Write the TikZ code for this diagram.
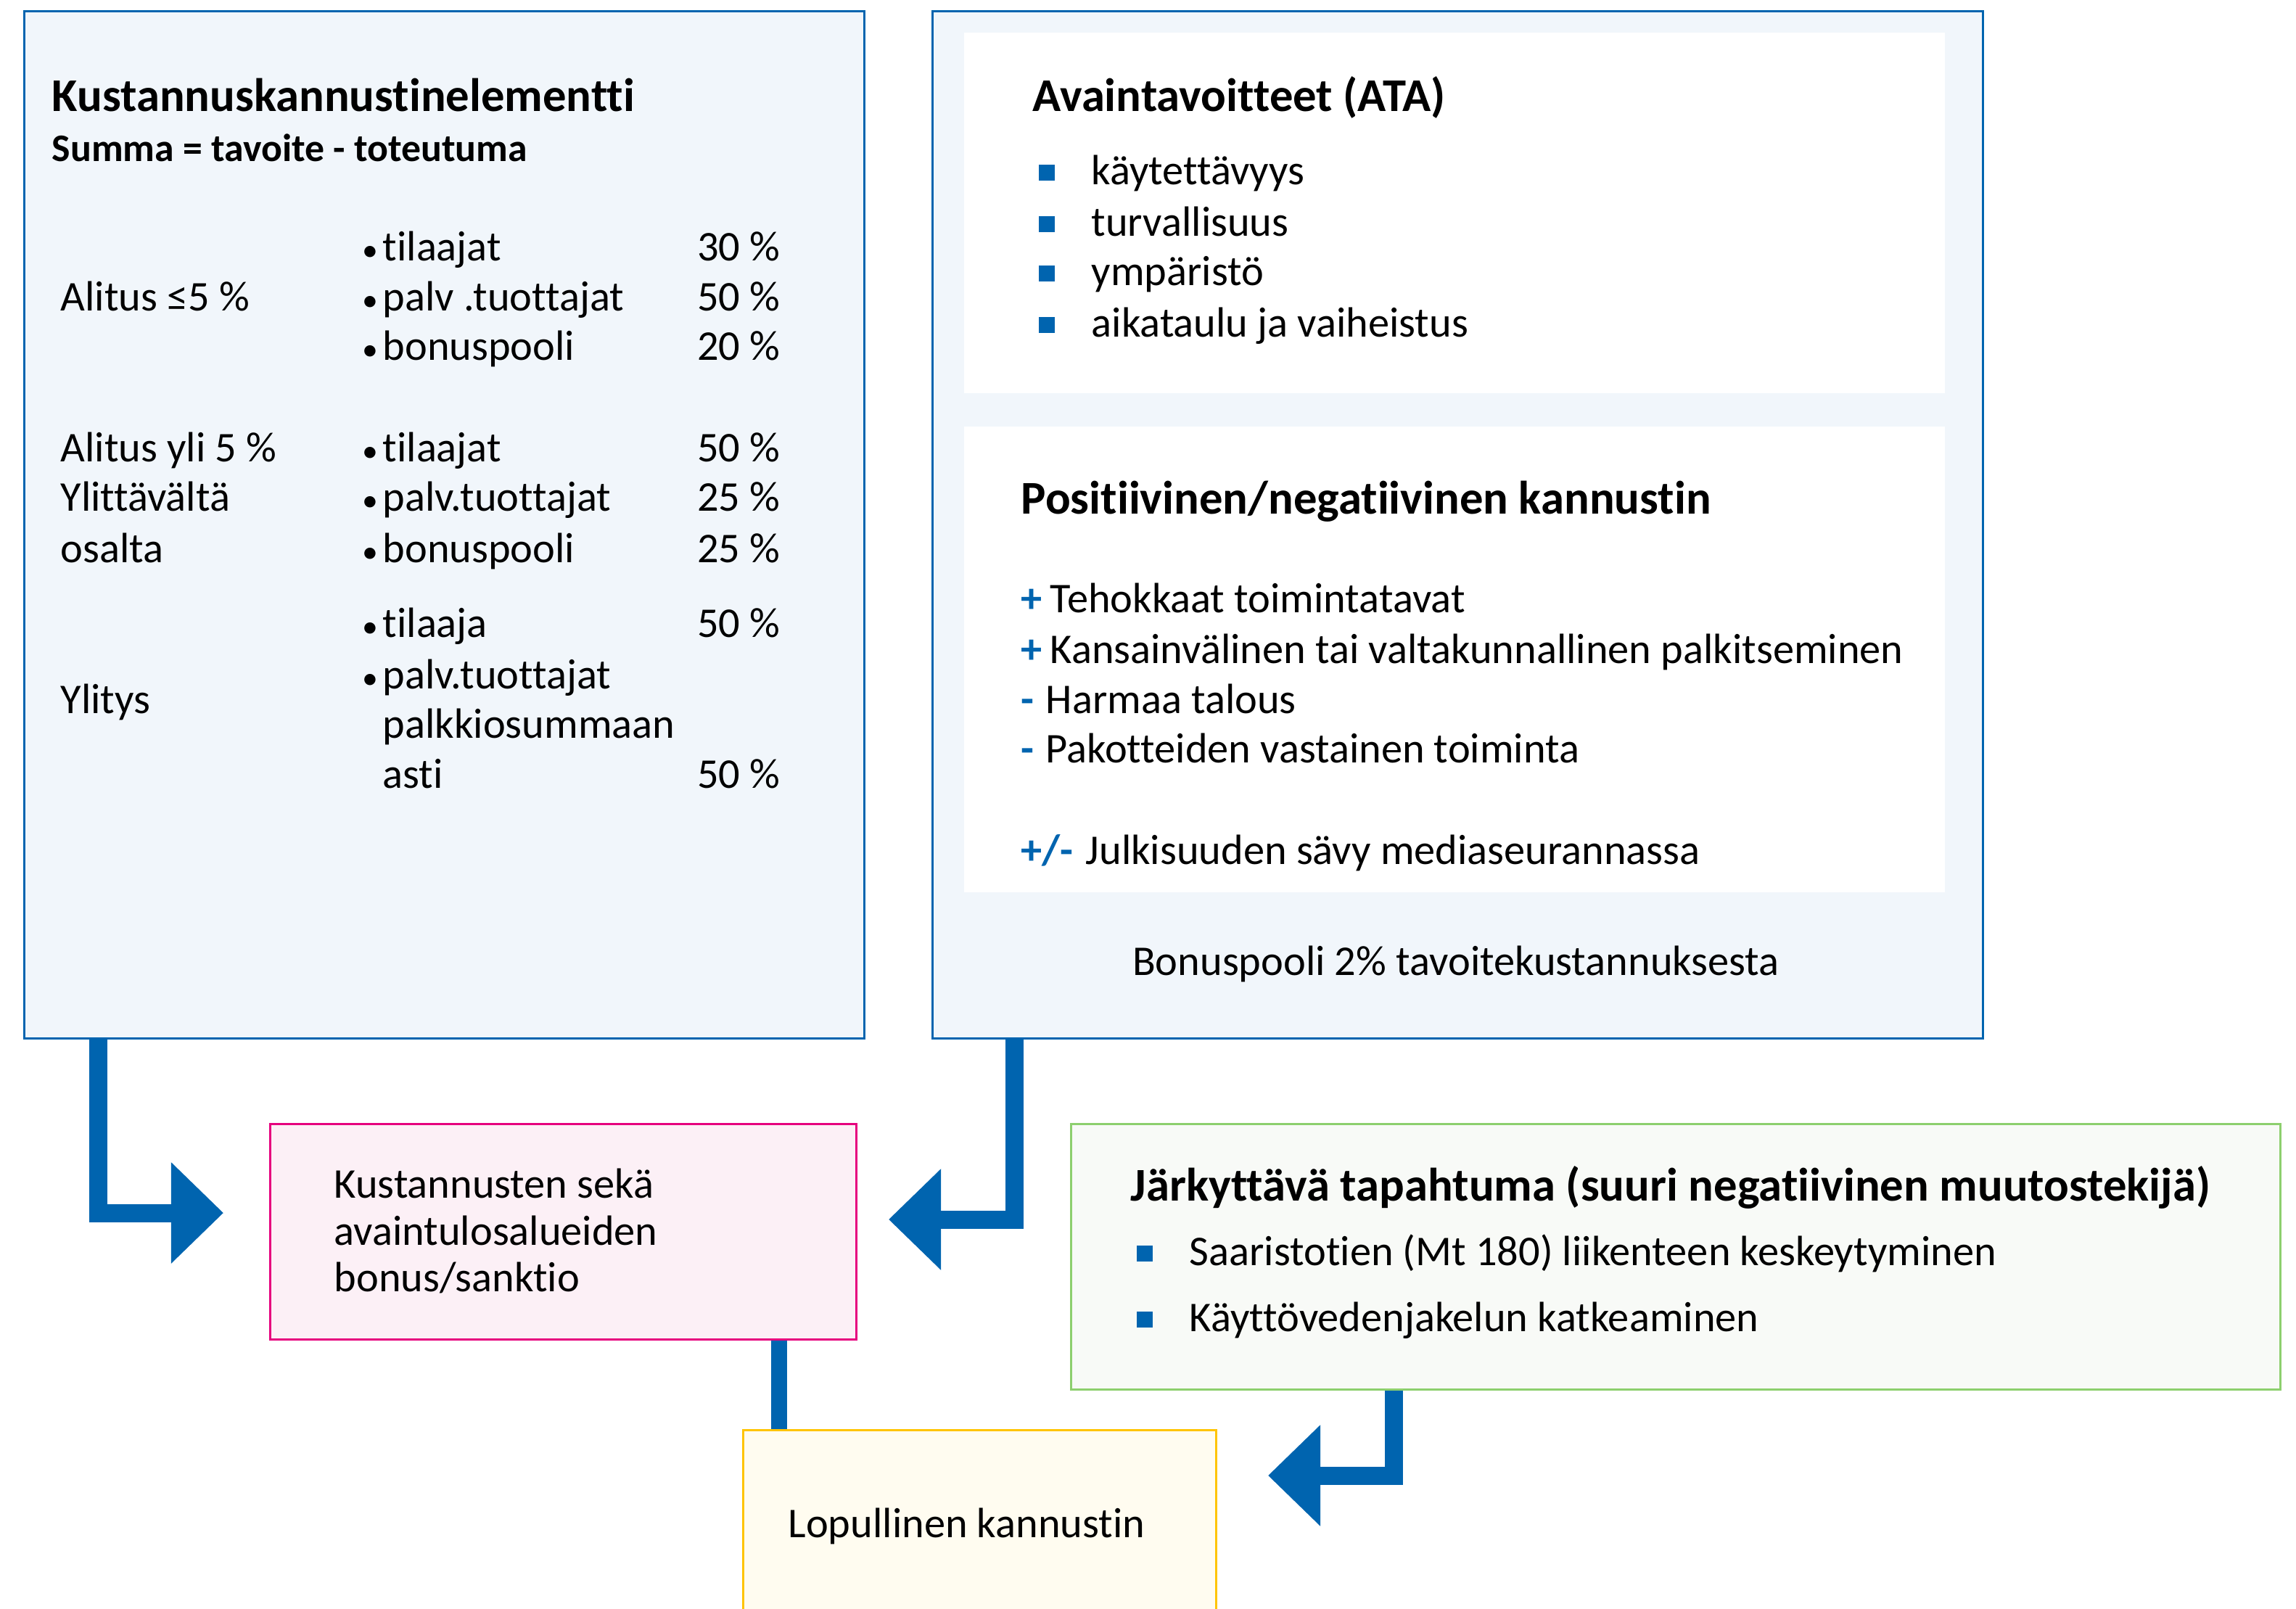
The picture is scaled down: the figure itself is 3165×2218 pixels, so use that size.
\documentclass[tikz,border=0pt]{standalone}
\usepackage{fontspec}
\setmainfont{Carlito}[Ligatures=NoCommon]
\usetikzlibrary{arrows.meta,positioning}

\definecolor{vblue}{HTML}{0064AF}
\definecolor{paleblue}{HTML}{F1F6FB}
\definecolor{pinkline}{HTML}{E6007E}
\definecolor{pinkfill}{HTML}{FCF0F6}
\definecolor{greenline}{HTML}{8DCF6E}
\definecolor{greenfill}{HTML}{F8FAF7}
\definecolor{yellowline}{HTML}{FFC400}
\definecolor{yellowfill}{HTML}{FFFCF0}

\newcommand{\dotitem}{\makebox[0.28cm][l]{\scalebox{0.75}{\textbullet}}}
\newcommand{\sqitem}{\makebox[0.73cm][l]{\textcolor{vblue}{\rule[1.5pt]{6.2pt}{6.2pt}}}}
\newcommand{\plusitem}{\makebox[0.40cm][l]{\textcolor{vblue}{\bfseries +}}}
\newcommand{\minusitem}{\makebox[0.34cm][l]{\textcolor{vblue}{\bfseries -}}}
\newcommand{\pmitem}{\makebox[0.89cm][l]{\textcolor{vblue}{\bfseries +/-}}}

\tikzset{
  panel/.style={draw=vblue, line width=0.03cm, fill=paleblue, anchor=north west, inner sep=0pt},
  card/.style={fill=white, anchor=north west, inner sep=0pt},
  txt/.style={anchor=west, inner sep=0pt, text height=0.64em, text depth=0pt, yshift=-0.07cm,
    font=\fontsize{16.6}{20}\selectfont},
  pct/.style={txt, anchor=east},
  head/.style={txt, yshift=-0.04cm, font=\fontsize{18.4}{22}\selectfont\bfseries},
  subhead/.style={txt, font=\fontsize{15.3}{18}\selectfont\bfseries},
  flow/.style={draw=vblue, line width=0.25cm, -{Triangle[length=0.72cm,width=1.35cm]}},
  link/.style={draw=vblue, line width=0.22cm},
}

\begin{document}
\begin{tikzpicture}[x=0.01cm, y=-0.01cm]
  \useasboundingbox (0,0) rectangle (3165,2218);

  % boxes
  \node[panel, minimum width=11.57cm, minimum height=14.15cm] (cost) at (32,14) {};
  \node[panel, minimum width=14.47cm, minimum height=14.15cm] (ata) at (1284,14) {};
  \node[card, minimum width=13.51cm, minimum height=4.97cm] (goals) at (1328,44) {};
  \node[card, minimum width=13.51cm, minimum height=6.42cm] (signs) at (1328,587) {};
  \node[panel, draw=pinkline, fill=pinkfill, minimum width=8.08cm, minimum height=2.97cm] (bonus) at (371,1548) {};
  \node[panel, draw=greenline, fill=greenfill, minimum width=16.66cm, minimum height=3.66cm] (shock) at (1475,1548) {};
  \node[panel, draw=yellowline, fill=yellowfill, minimum width=6.52cm, minimum height=2.70cm] (final) at (1023,1970) {};

  % cost element
  \node[head] (costtitle) at (71,131) {Kustannuskannustinelementti};
  \node[subhead] (costsum) at (71,204) {Summa = tavoite - toteutuma};

  \node[txt] (under) at (83,410) {Alitus ≤5 \%};
  \node[txt] (ua) at (499,341) {\dotitem tilaajat};
  \node[txt] (ub) at (499,410) {\dotitem palv .tuottajat};
  \node[txt] (uc) at (499,478) {\dotitem bonuspooli};
  \node[pct] (uap) at (1076,341) {30 \%};
  \node[pct] (ubp) at (1076,410) {50 \%};
  \node[pct] (ucp) at (1076,478) {20 \%};

  \node[txt] (overa) at (83,618) {Alitus yli 5 \%};
  \node[txt] (overb) at (83,686) {Ylittävältä};
  \node[txt] (overc) at (83,757) {osalta};
  \node[txt] (oa) at (499,618) {\dotitem tilaajat};
  \node[txt] (ob) at (499,686) {\dotitem palv.tuottajat};
  \node[txt] (oc) at (499,757) {\dotitem bonuspooli};
  \node[pct] (oap) at (1076,618) {50 \%};
  \node[pct] (obp) at (1076,686) {25 \%};
  \node[pct] (ocp) at (1076,757) {25 \%};

  \node[txt] (excess) at (83,965) {Ylitys};
  \node[txt] (ea) at (499,860) {\dotitem tilaaja};
  \node[txt] (eb) at (499,931) {\dotitem palv.tuottajat};
  \node[txt] (ec) at (527,999) {palkkiosummaan};
  \node[txt] (ed) at (527,1068) {asti};
  \node[pct] (eap) at (1076,860) {50 \%};
  \node[pct] (edp) at (1076,1068) {50 \%};

  % key goals
  \node[head] (goaltitle) at (1423,131) {Avaintavoitteet (ATA)};
  \node[txt] (ga) at (1431,236) {\sqitem käytettävyys};
  \node[txt] (gb) at (1431,307) {\sqitem turvallisuus};
  \node[txt] (gc) at (1431,375) {\sqitem ympäristö};
  \node[txt] (gd) at (1431,446) {\sqitem aikataulu ja vaiheistus};

  \node[head] (signtitle) at (1407,686) {Positiivinen/negatiivinen kannustin};
  \node[txt] (sa) at (1407,826) {\plusitem Tehokkaat toimintatavat};
  \node[txt] (sb) at (1407,896) {\plusitem Kansainvälinen tai valtakunnallinen palkitseminen};
  \node[txt] (sc) at (1407,965) {\minusitem Harmaa talous};
  \node[txt] (sd) at (1407,1033) {\minusitem Pakotteiden vastainen toiminta};
  \node[txt] (se) at (1407,1173) {\pmitem Julkisuuden sävy mediaseurannassa};

  \node[txt, anchor=center] (pool) at (2007,1326) {Bonuspooli 2\% tavoitekustannuksesta};

  % bonus / sanction
  \node[txt] (ba) at (460,1633) {Kustannusten sekä};
  \node[txt] (bb) at (460,1698) {avaintulosalueiden};
  \node[txt] (bc) at (460,1762) {bonus/sanktio};

  % shock event
  \node[head] (shocktitle) at (1558,1633) {Järkyttävä tapahtuma (suuri negatiivinen muutostekijä)};
  \node[txt] (ka) at (1566,1726) {\sqitem Saaristotien (Mt 180) liikenteen keskeytyminen};
  \node[txt] (kb) at (1566,1817) {\sqitem Käyttövedenjakelun katkeaminen};

  \node[txt] (finaltext) at (1086,2101) {Lopullinen kannustin};

  % connectors
  \coordinate (tipA) at (308,1672);
  \coordinate (tipB) at (1225,1681);
  \coordinate (tipC) at (1748,2034);
  \coordinate (linkx) at (1074,0);

  \draw[flow] ([xshift=1.03cm]cost.south west) |- (tipA);
  \draw[flow] ([xshift=1.14cm]ata.south west) |- (tipB);
  \draw[link] (bonus.south -| linkx) -- (final.north -| linkx);
  \draw[flow] ([xshift=4.46cm]shock.south west) |- (tipC);

\end{tikzpicture}
\end{document}
